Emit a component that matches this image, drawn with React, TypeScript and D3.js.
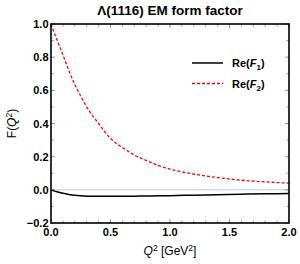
import React from "react";
import * as d3 from "d3";

// Q^2 sample points [GeV^2]
const q2 = [0, 0.05, 0.1, 0.15, 0.2, 0.25, 0.3, 0.4, 0.5, 0.6, 0.7, 0.8, 0.9, 1.0, 1.2, 1.4, 1.6, 1.8, 2.0];
// Re(F1), Re(F2)
const reF1 = [0, -0.012, -0.021, -0.028, -0.033, -0.036, -0.038, -0.039, -0.039, -0.039, -0.038, -0.037, -0.036, -0.035, -0.032, -0.029, -0.026, -0.024, -0.022];
const reF2 = [1.0, 0.905, 0.815, 0.72, 0.635, 0.565, 0.5, 0.4, 0.31, 0.255, 0.21, 0.177, 0.147, 0.125, 0.095, 0.074, 0.058, 0.048, 0.04];

const xTicks = [0, 0.5, 1.0, 1.5, 2.0];
const yTicks = [-0.2, 0, 0.2, 0.4, 0.6, 0.8, 1.0];

const FONT = "Liberation Sans, Arial, sans-serif";

function App() {
  const width = 300;
  const height = 264;
  const M = { top: 24, right: 11, bottom: 41, left: 51 };
  const innerW = width - M.left - M.right;
  const innerH = height - M.top - M.bottom;

  const x = d3.scaleLinear().domain([0, 2]).range([0, innerW]);
  const y = d3.scaleLinear().domain([-0.2, 1.0]).range([innerH, 0]);

  const line = (vals: number[]) =>
    d3
      .line<number>()
      .x((_, i) => x(q2[i]))
      .y((v) => y(v))
      .curve(d3.curveMonotoneX)(vals) ?? "";

  const xMinor = d3.range(0, 2.0001, 0.1);
  const yMinor = d3.range(-0.2, 1.0001, 0.1);
  const isMajorX = (v: number) => Math.abs(v * 2 - Math.round(v * 2)) < 1e-6;
  const isMajorY = (v: number) => Math.abs(v * 5 - Math.round(v * 5)) < 1e-6;

  return (
    <svg width={width} height={height} style={{ position: "absolute", left: 0, top: 0 }} fontFamily={FONT}>
      <text x={M.left + innerW / 2} y={15} textAnchor="middle" fontSize={13.5} fontWeight="bold">
        Λ(1116) EM form factor
      </text>
      <g transform={`translate(${M.left},${M.top})`}>
        <line x1={0} x2={innerW} y1={y(0)} y2={y(0)} stroke="#c8c8c8" strokeWidth={1} />

        {/* ticks on all four sides */}
        {xMinor.map((v, i) => {
          const len = isMajorX(v) ? 4 : 2.5;
          return (
            <g key={"xt" + i} stroke="#777" strokeWidth={0.8}>
              <line x1={x(v)} x2={x(v)} y1={innerH} y2={innerH - len} />
              <line x1={x(v)} x2={x(v)} y1={0} y2={len} />
            </g>
          );
        })}
        {yMinor.map((v, i) => {
          const len = isMajorY(v) ? 4 : 2.5;
          return (
            <g key={"yt" + i} stroke="#777" strokeWidth={0.8}>
              <line x1={0} x2={len} y1={y(v)} y2={y(v)} />
              <line x1={innerW} x2={innerW - len} y1={y(v)} y2={y(v)} />
            </g>
          );
        })}

        <path d={line(reF2)} fill="none" stroke="#ff0000" strokeWidth={1.3} strokeDasharray="3,2" />
        <path d={line(reF1)} fill="none" stroke="#000" strokeWidth={1.5} />

        <rect x={0} y={0} width={innerW} height={innerH} fill="none" stroke="#000" strokeWidth={1.6} />

        {xTicks.map((v) => (
          <text key={"xl" + v} x={x(v)} y={innerH + 13} textAnchor="middle" fontSize={11} fontWeight="bold">
            {v.toFixed(1)}
          </text>
        ))}
        {yTicks.map((v) => (
          <text key={"yl" + v} x={-2.5} y={y(v) + 4} textAnchor="end" fontSize={11} fontWeight="bold">
            {v < 0 ? "\u2212" + Math.abs(v).toFixed(1) : v.toFixed(1)}
          </text>
        ))}

        {/* legend */}
        <line x1={141} x2={172} y1={39} y2={39} stroke="#000" strokeWidth={1.5} />
        <text x={181} y={43} fontSize={11} fontWeight="bold">
          Re(<tspan fontStyle="italic">F</tspan>
          <tspan fontSize={8} dy={3}>1</tspan>
          <tspan dy={-3}>)</tspan>
        </text>
        <line x1={141} x2={172} y1={59.5} y2={59.5} stroke="#ff0000" strokeWidth={1.3} strokeDasharray="3,2" />
        <text x={181} y={64} fontSize={11} fontWeight="bold">
          Re(<tspan fontStyle="italic">F</tspan>
          <tspan fontSize={8} dy={3}>2</tspan>
          <tspan dy={-3}>)</tspan>
        </text>
      </g>

      <text x={M.left + innerW / 2} y={255} textAnchor="middle" fontSize={12}>
        <tspan fontStyle="italic">Q</tspan>
        <tspan fontSize={8.5} dy={-4}>2</tspan>
        <tspan dy={4}> [GeV</tspan>
        <tspan fontSize={8.5} dy={-4}>2</tspan>
        <tspan dy={4}>]</tspan>
      </text>
      <text transform={`translate(16,${M.top + innerH / 2}) rotate(-90)`} textAnchor="middle" fontSize={12}>
        F(<tspan fontStyle="italic">Q</tspan>
        <tspan fontSize={8.5} dy={-4}>2</tspan>
        <tspan dy={4}>)</tspan>
      </text>
    </svg>
  );
}

export default App;
